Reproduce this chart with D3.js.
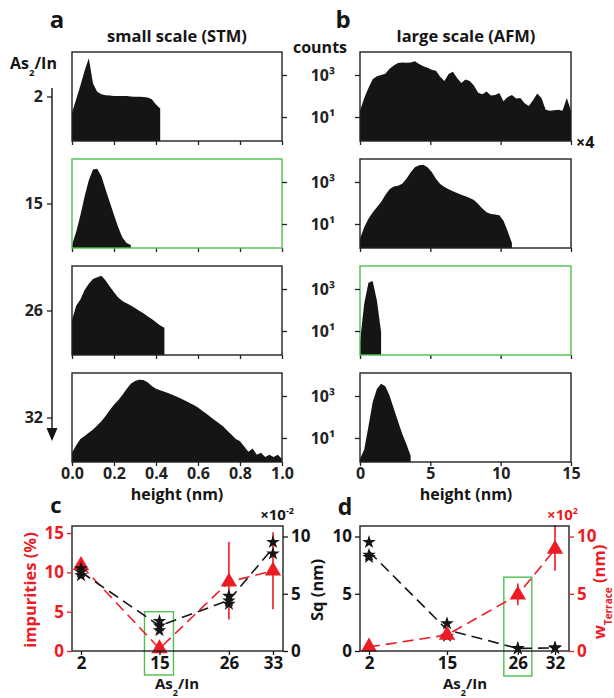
<!DOCTYPE html>
<html>
<head>
<meta charset="utf-8">
<script src="https://cdn.jsdelivr.net/npm/d3@7"></script>
<style>
  body { margin: 0; background: #fff; }
  text { font-family: "Open Sans", sans-serif; font-weight: 700; }
</style>
</head>
<body>
<svg id="fig" width="614" height="698"></svg>
<script>
// ---------- height histograms: log10(counts) per bin, null = empty bin ----------
const stmBinStep = 0.02;   // nm, STM bins
const afmBinStep = 0.3;    // nm, AFM bins
const ratioRows = ["2", "15", "26", "32"];

const stmLog2 = [1.2, 1.85, 2.5, 3.2, 3.8, 2.6, 2.2, 2.08, 2.03, 2.02, 2.0, 2.0, 2.0, 2.0, 1.98,
  1.97, 1.96, 1.95, 1.93, 1.85, 1.6, 1.4];
const stmLog15 = [0.0, 0.63, 1.42, 2.31, 3.08, 3.6, 3.63, 3.27, 2.64, 2.03, 1.43, 0.85, 0.36, 0.1, 0.0];
const stmLog26 = [1.52, 2.2, 2.5, 2.95, 3.25, 3.48, 3.56, 3.63, 3.4, 3.12, 2.84, 2.6, 2.43, 2.32,
  2.22, 2.1, 1.97, 1.84, 1.7, 1.57, 1.42, 1.26, 1.15];
const stmLog32 = [0.3, 0.65, 0.95, 1.1, 1.25, 1.4, 1.6, 1.8, 2.05, 2.33, 2.58, 2.8, 3.05, 3.33, 3.58,
  3.72, 3.77, 3.76, 3.65, 3.48, 3.35, 3.27, 3.2, 3.13, 3.05, 2.96, 2.87, 2.77, 2.67, 2.57, 2.45,
  2.3, 2.15, 2.0, 1.85, 1.7, 1.55, 1.35, 1.15, 0.95, 0.85, 0.6, 0.35, 0.5, 0.2, 0.3, 0.1, 0.2,
  0.1, 0.2, 0.0];

const afmLog2 = [1.3, 1.9, 2.38, 2.8, 2.94, 3.0, 3.06, 3.3, 3.45, 3.57, 3.6, 3.58, 3.6, 3.65, 3.52,
  3.42, 3.35, 3.25, 3.2, 2.92, 2.72, 3.05, 3.15, 2.86, 2.62, 2.78, 2.72, 2.5, 2.15, 2.08, 2.22,
  2.02, 2.05, 2.14, 1.75, 1.95, 2.05, 1.88, 1.9, 1.65, 1.52, 1.8, 2.12, 1.9, 1.35, 1.3, 1.32,
  1.35, 1.3, 1.9, 1.3];
const afmLog15 = [0.3, 0.85, 1.25, 1.55, 1.8, 2.05, 2.38, 2.65, 2.78, 2.82, 2.92, 3.15, 3.45, 3.7,
  3.8, 3.82, 3.7, 3.48, 3.15, 2.9, 2.76, 2.65, 2.56, 2.48, 2.39, 2.32, 2.24, 2.14, 1.95, 1.74,
  1.56, 1.48, 1.45, 1.42, 1.15, 0.65, 0.1];
const afmLog26 = [0.5, 2.3, 3.3, 3.38, 2.45, 0.95];
const afmLog32 = [0.0, 0.45, 1.55, 2.7, 3.33, 3.58, 3.46, 3.02, 2.4, 1.8, 1.2, 0.7, 0.15];

const stmTicks = [0, 0.2, 0.4, 0.6, 0.8, 1.0];
const afmTicks = [0, 5, 10, 15];
const countTicks = [1, 3];            // 10^1, 10^3
const highlightRowStm = 1, highlightRowAfm = 2;

// ---------- panel c: impurities and small-scale roughness ----------
const ratioC = [2, 15, 26.5, 33.8];
const ratioLabelsC = ["2", "15", "26", "33"];
const impurities = [10.9, 0.3, 8.8, 10.2];          // %
const impuritiesLow = [null, null, 4.0, 5.3];
const impuritiesHigh = [null, null, 13.9, 15.1];
const sqSmall = [[7.2, 6.6, 6.9], [2.6, 2.2, 1.8], [4.8, 4.4, 4.1], [9.5, 8.5]]; // ×10⁻² nm

// ---------- panel d: large-scale roughness and terrace width ----------
const ratioD = [2, 15, 26.8, 33];
const ratioLabelsD = ["2", "15", "26", "32"];
const sqLarge = [[9.5, 8.4, 8.2], [2.4, 1.3], [0.25, 0.2], [0.3, 0.25]];       // nm
const wTerrace = [0.35, 1.4, 4.9, 8.9];             // ×10² nm
const wTerraceLow = [null, 1.1, 4.0, 7.0];
const wTerraceHigh = [null, 1.7, 5.9, 11.0];

// ---------- styling ----------
const INK = "#151515", RED = "#ed1c24", GREEN = "#4fbf4f", FRAME = "#222";
const svg = d3.select("#fig");

function styleAxis(g, color, size) {
  g.select(".domain").remove();
  g.selectAll("line").attr("stroke", color).attr("stroke-width", 1.3);
  g.selectAll("text").attr("fill", color).attr("font-size", size)
    .attr("font-family", "Open Sans, sans-serif").attr("font-weight", 700);
}

// ---------- histogram rows ----------
const rowTops = [52, 159, 266, 373];
const rowH = 89;
const logDomain = [-0.143, 4.095];
const xStm = d3.scaleLinear().domain([0, 1]).range([72, 282]);
const xAfm = d3.scaleLinear().domain([0, 15]).range([360, 571]);
const stmSets = [stmLog2, stmLog15, stmLog26, stmLog32];
const afmSets = [afmLog2, afmLog15, afmLog26, afmLog32];

function drawHistogram(values, step, x, top, ticks, fmt, showLabels, highlighted) {
  const y = d3.scaleLinear().domain(logDomain).range([top + rowH, top]);
  const bins = values.map((v, i) => ({ h: i * step, v }));
  const area = d3.area()
    .defined(d => d.v != null)
    .x(d => x(d.h)).y0(top + rowH).y1(d => y(d.v));
  svg.append("path").datum(bins).attr("d", area).attr("fill", INK);

  const ax = svg.append("g").attr("transform", `translate(0,${top + rowH})`)
    .call(d3.axisBottom(x).tickValues(ticks).tickSize(4).tickPadding(2)
      .tickFormat(showLabels ? fmt : () => ""));
  styleAxis(ax, FRAME, 16);

  const [x0, x1] = x.range();
  svg.append("rect").attr("x", x0).attr("y", top).attr("width", x1 - x0).attr("height", rowH)
    .attr("fill", "none").attr("stroke", highlighted ? GREEN : FRAME).attr("stroke-width", 1.4);
  return y;
}

rowTops.forEach((top, r) => {
  const last = r === rowTops.length - 1;
  const yA = drawHistogram(stmSets[r], stmBinStep, xStm, top, stmTicks, d3.format(".1f"), last, r === highlightRowStm);
  const yB = drawHistogram(afmSets[r], afmBinStep, xAfm, top, afmTicks, d3.format("d"), last, r === highlightRowAfm);

  const right = svg.append("g").attr("transform", "translate(282,0)")
    .call(d3.axisRight(yA).tickValues(countTicks).tickSize(5).tickFormat(() => ""));
  styleAxis(right, FRAME, 16);

  const left = svg.append("g").attr("transform", "translate(360,0)")
    .call(d3.axisLeft(yB).tickValues(countTicks).tickSize(5).tickPadding(20)
      .tickFormat(d => d === 3 ? "10³" : "10¹"));
  styleAxis(left, FRAME, 16);
});

// As2/In arrow axis along the rows
const yRows = d3.scalePoint().domain(ratioRows)
  .range([rowTops[0] + rowH / 2, rowTops[3] + rowH / 2]);
const rowAxis = svg.append("g").attr("transform", "translate(52,0)")
  .call(d3.axisLeft(yRows).tickSize(5).tickPadding(4));
styleAxis(rowAxis, FRAME, 16);
svg.append("line").attr("x1", 52).attr("x2", 52).attr("y1", 88).attr("y2", 430)
  .attr("stroke", FRAME).attr("stroke-width", 1.5);
svg.append("path").attr("d", "M46.5,428 L57.5,428 L52,441 Z").attr("fill", INK);

function subLabel(g, x, y, parts, size, color, anchor) {
  const t = g.append("text").attr("x", x).attr("y", y).attr("font-size", size)
    .attr("fill", color).attr("text-anchor", anchor || "start");
  parts.forEach(p => {
    const s = t.append("tspan").text(p.t);
    if (p.sub) s.attr("font-size", p.size || size * 0.6).attr("baseline-shift", "sub");
    if (p.sup) s.attr("font-size", p.size || size * 0.6).attr("baseline-shift", "super");
  });
  return t;
}

subLabel(svg, 10, 69, [{ t: "As" }, { t: "2", sub: true }, { t: "/In" }], 16, INK);
svg.append("text").attr("x", 320).attr("y", 53).attr("text-anchor", "middle")
  .attr("font-size", 16).attr("fill", INK).text("counts");
svg.append("text").attr("x", 576).attr("y", 148).attr("font-size", 16).attr("fill", INK).text("×4");

svg.append("text").attr("x", 57).attr("y", 28).attr("text-anchor", "middle")
  .attr("font-size", 24).attr("fill", INK).text("a");
svg.append("text").attr("x", 343).attr("y", 28).attr("text-anchor", "middle")
  .attr("font-size", 24).attr("fill", INK).text("b");
svg.append("text").attr("x", 177).attr("y", 42).attr("text-anchor", "middle")
  .attr("font-size", 16.5).attr("fill", INK).text("small scale (STM)");
svg.append("text").attr("x", 466).attr("y", 42).attr("text-anchor", "middle")
  .attr("font-size", 16.5).attr("fill", INK).text("large scale (AFM)");
svg.append("text").attr("x", 177).attr("y", 500).attr("text-anchor", "middle")
  .attr("font-size", 16).attr("fill", INK).text("height (nm)");
svg.append("text").attr("x", 466).attr("y", 500).attr("text-anchor", "middle")
  .attr("font-size", 16).attr("fill", INK).text("height (nm)");

// ---------- scatter panels ----------
const plotTop = 526, plotBottom = 651;
const star = d3.symbol().type(d3.symbolStar).size(58);
const tri = d3.symbol().type(d3.symbolTriangle).size(115);
const mean = a => d3.mean(a);

function frameBox(x) {
  const [x0, x1] = x.range();
  svg.append("rect").attr("x", x0).attr("y", plotTop).attr("width", x1 - x0)
    .attr("height", plotBottom - plotTop).attr("fill", "none")
    .attr("stroke", FRAME).attr("stroke-width", 1.4);
}

function dashed(xs, ys, x, y, color) {
  const line = d3.line().x((d, i) => x(xs[i])).y(d => y(d));
  svg.append("path").datum(ys).attr("d", line).attr("fill", "none")
    .attr("stroke", color).attr("stroke-width", 1.6).attr("stroke-dasharray", "11,6");
}

function errorBars(xs, lo, hi, x, y, color) {
  xs.forEach((v, i) => {
    if (lo[i] == null) return;
    svg.append("line").attr("x1", x(v)).attr("x2", x(v)).attr("y1", y(lo[i])).attr("y2", y(hi[i]))
      .attr("stroke", color).attr("stroke-width", 1.6);
  });
}

function stars(xs, groups, x, y) {
  groups.forEach((g, i) => g.forEach(v => {
    svg.append("path").attr("d", star).attr("fill", INK)
      .attr("transform", `translate(${x(xs[i])},${y(v)})`);
  }));
}

function triangles(xs, vals, x, y) {
  vals.forEach((v, i) => svg.append("path").attr("d", tri).attr("fill", RED)
    .attr("transform", `translate(${x(xs[i])},${y(v)})`));
}

// panel c
const xC = d3.scaleLinear().domain([0.51, 35.46]).range([72, 283]);
const yImp = d3.scaleLinear().domain([0, 15.9]).range([plotBottom, plotTop]);
const ySqS = d3.scaleLinear().domain([0, 10.92]).range([plotBottom, plotTop]);

svg.append("rect").attr("x", xC(15) - 15).attr("y", yImp(5)).attr("width", 29)
  .attr("height", 675 - yImp(5)).attr("fill", "none").attr("stroke", GREEN).attr("stroke-width", 1.4);

dashed(ratioC, impurities, xC, yImp, RED);
errorBars(ratioC, impuritiesLow, impuritiesHigh, xC, yImp, RED);
triangles(ratioC, impurities, xC, yImp);
dashed(ratioC, sqSmall.map(mean), xC, ySqS, INK);
stars(ratioC, sqSmall, xC, ySqS);
frameBox(xC);

styleAxis(svg.append("g").attr("transform", "translate(72,0)")
  .call(d3.axisLeft(yImp).tickValues([0, 5, 10, 15]).tickSize(5).tickPadding(3)), RED, 17);
styleAxis(svg.append("g").attr("transform", "translate(283,0)")
  .call(d3.axisRight(ySqS).tickValues([0, 5, 10]).tickSize(5).tickPadding(3)), INK, 17);
styleAxis(svg.append("g").attr("transform", `translate(0,${plotBottom})`)
  .call(d3.axisBottom(xC).tickValues(ratioC).tickSize(4).tickPadding(2)
    .tickFormat((d, i) => ratioLabelsC[i])), INK, 17);

// panel d
const xD = d3.scaleLinear().domain([0.5, 35.33]).range([360, 569]);
const ySqL = d3.scaleLinear().domain([0, 10.92]).range([plotBottom, plotTop]);
const yW = d3.scaleLinear().domain([0, 10.92]).range([plotBottom, plotTop]);

svg.append("rect").attr("x", xD(26.8) - 14).attr("y", ySqL(6.45)).attr("width", 28)
  .attr("height", 676 - ySqL(6.45)).attr("fill", "none").attr("stroke", GREEN).attr("stroke-width", 1.4);

dashed(ratioD, sqLarge.map(mean), xD, ySqL, INK);
stars(ratioD, sqLarge, xD, ySqL);
dashed(ratioD, wTerrace, xD, yW, RED);
errorBars(ratioD, wTerraceLow, wTerraceHigh, xD, yW, RED);
triangles(ratioD, wTerrace, xD, yW);
frameBox(xD);

styleAxis(svg.append("g").attr("transform", "translate(360,0)")
  .call(d3.axisLeft(ySqL).tickValues([0, 5, 10]).tickSize(5).tickPadding(3)), INK, 17);
styleAxis(svg.append("g").attr("transform", "translate(569,0)")
  .call(d3.axisRight(yW).tickValues([0, 5, 10]).tickSize(5).tickPadding(3)), RED, 17);
styleAxis(svg.append("g").attr("transform", `translate(0,${plotBottom})`)
  .call(d3.axisBottom(xD).tickValues(ratioD).tickSize(4).tickPadding(2)
    .tickFormat((d, i) => ratioLabelsD[i])), INK, 17);

// panel labels and axis titles for c, d
svg.append("text").attr("x", 56).attr("y", 513).attr("text-anchor", "middle")
  .attr("font-size", 22).attr("fill", INK).text("c");
svg.append("text").attr("x", 345).attr("y", 515).attr("text-anchor", "middle")
  .attr("font-size", 23).attr("fill", INK).text("d");
subLabel(svg, 294, 520, [{ t: "×10" }, { t: "-2", sup: true }], 15, INK, "end");
subLabel(svg, 578, 520, [{ t: "×10" }, { t: "2", sup: true }], 15, RED, "end");

svg.append("text").attr("transform", "translate(36,590) rotate(-90)").attr("text-anchor", "middle")
  .attr("font-size", 16.5).attr("fill", RED).text("impurities (%)");
svg.append("text").attr("transform", "translate(323,590) rotate(-90)").attr("text-anchor", "middle")
  .attr("font-size", 16.5).attr("fill", INK).text("Sq (nm)");
const wl = svg.append("g").attr("transform", "translate(605,592) rotate(-90)");
subLabel(wl, 0, 0, [{ t: "w" }, { t: "Terrace", sub: true, size: 10 }, { t: " (nm)" }], 16.5, RED, "middle");

subLabel(svg, 177, 689, [{ t: "As" }, { t: "2", sub: true }, { t: "/In" }], 15, INK, "middle");
subLabel(svg, 465, 689, [{ t: "As" }, { t: "2", sub: true }, { t: "/In" }], 15, INK, "middle");
</script>
</body>
</html>
